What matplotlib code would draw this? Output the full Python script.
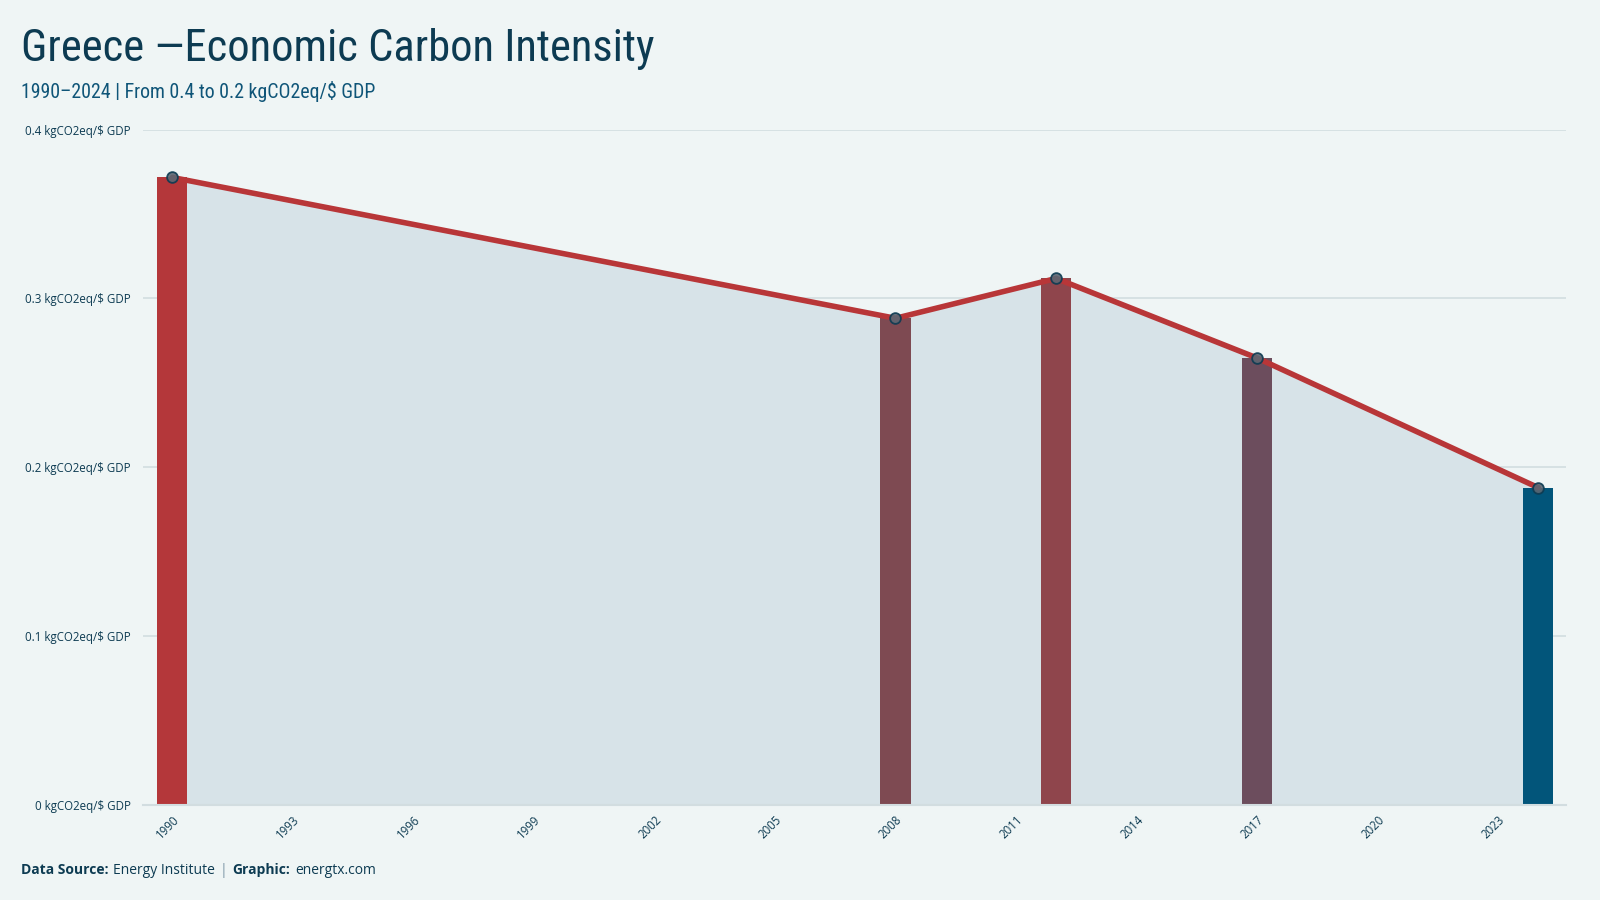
import numpy as np
import matplotlib
matplotlib.use("Agg")
import matplotlib.pyplot as plt

# data
years = [1990, 2008, 2012, 2017, 2024]
values = [0.3716, 0.2882, 0.3118, 0.2647, 0.1879]
xticks = list(range(1990, 2024, 3))
yticks = [0, 0.1, 0.2, 0.3, 0.4]
ytick_labels = ["0 kgCO2eq/\\$ GDP", "0.1 kgCO2eq/\\$ GDP", "0.2 kgCO2eq/\\$ GDP",
                "0.3 kgCO2eq/\\$ GDP", "0.4 kgCO2eq/\\$ GDP"]

# bar colours (red = high intensity, blue = low)
bar_colors = ["#b4373a", "#7e4a52", "#8f454c", "#6c4d5d", "#02557a"]

bg = "#eff5f5"
dark = "#0d3b52"
narrow = ["Roboto Condensed", "Roboto", "DejaVu Sans"]
plt.rcParams['font.family'] = ["Open Sans", "DejaVu Sans"]

fig = plt.figure(figsize=(16, 9), dpi=100, facecolor=bg)
ax = fig.add_axes([0.0894, 0.1056, 0.8896, 0.7505])
ax.set_facecolor(bg)

ax.fill_between(years, values, 0, color="#d7e3e8", zorder=1)
ax.bar(years, values, width=0.75, color=bar_colors, zorder=2)
ax.plot(years, values, color="#b83638", lw=4, zorder=3, solid_capstyle="round")
ax.scatter(years, values, s=60, facecolor="#5b6672", alpha=0.9,
           edgecolor=dark, linewidth=1.3, zorder=4)

ax.set_xlim(1989.27, 2024.7)
ax.set_ylim(0, 0.4)
ax.set_yticks(yticks)
ax.set_yticklabels(ytick_labels)
ax.set_xticks(xticks)
ax.set_xticklabels([str(x) for x in xticks], rotation=45, ha="right", rotation_mode="anchor")
ax.tick_params(axis="y", length=0, pad=9, labelsize=8.3, labelcolor=dark)
ax.tick_params(axis="x", length=0, pad=6, labelsize=8.3, labelcolor=dark)
ax.grid(axis="y", color="#d2dde0", lw=1.2, zorder=0)
ax.set_axisbelow(True)
for s in ["top", "right", "left"]:
    ax.spines[s].set_visible(False)
ax.spines["bottom"].set_color("#d2dde0")
ax.spines["bottom"].set_linewidth(1.5)

fig.text(0.013, 0.945, "Greece —Economic Carbon Intensity", fontsize=32,
         color=dark, family=narrow, va="center")
fig.text(0.013, 0.898, "1990–2024 | From 0.4 to 0.2 kgCO2eq/\\$ GDP", fontsize=14.3,
         color="#0f5578", family=narrow, va="center")

# footer
t = fig.text(0.013, 0.033, "Data Source:", fontsize=10, color=dark, weight="bold", va="center")
fig.canvas.draw()
r = fig.canvas.get_renderer()
def after(txt, s, **kw):
    bb = txt.get_window_extent(r)
    x = bb.x1 / fig.bbox.width + 0.003
    nt = fig.text(x, 0.033, s, fontsize=10, va="center", **kw)
    return nt
t = after(t, "Energy Institute", color=dark)
t = after(t, "|", color="#7f98a8")
t = after(t, "Graphic:", color=dark, weight="bold")
t = after(t, "energtx.com", color=dark)

fig.savefig("out.png", dpi=100, facecolor=bg)
